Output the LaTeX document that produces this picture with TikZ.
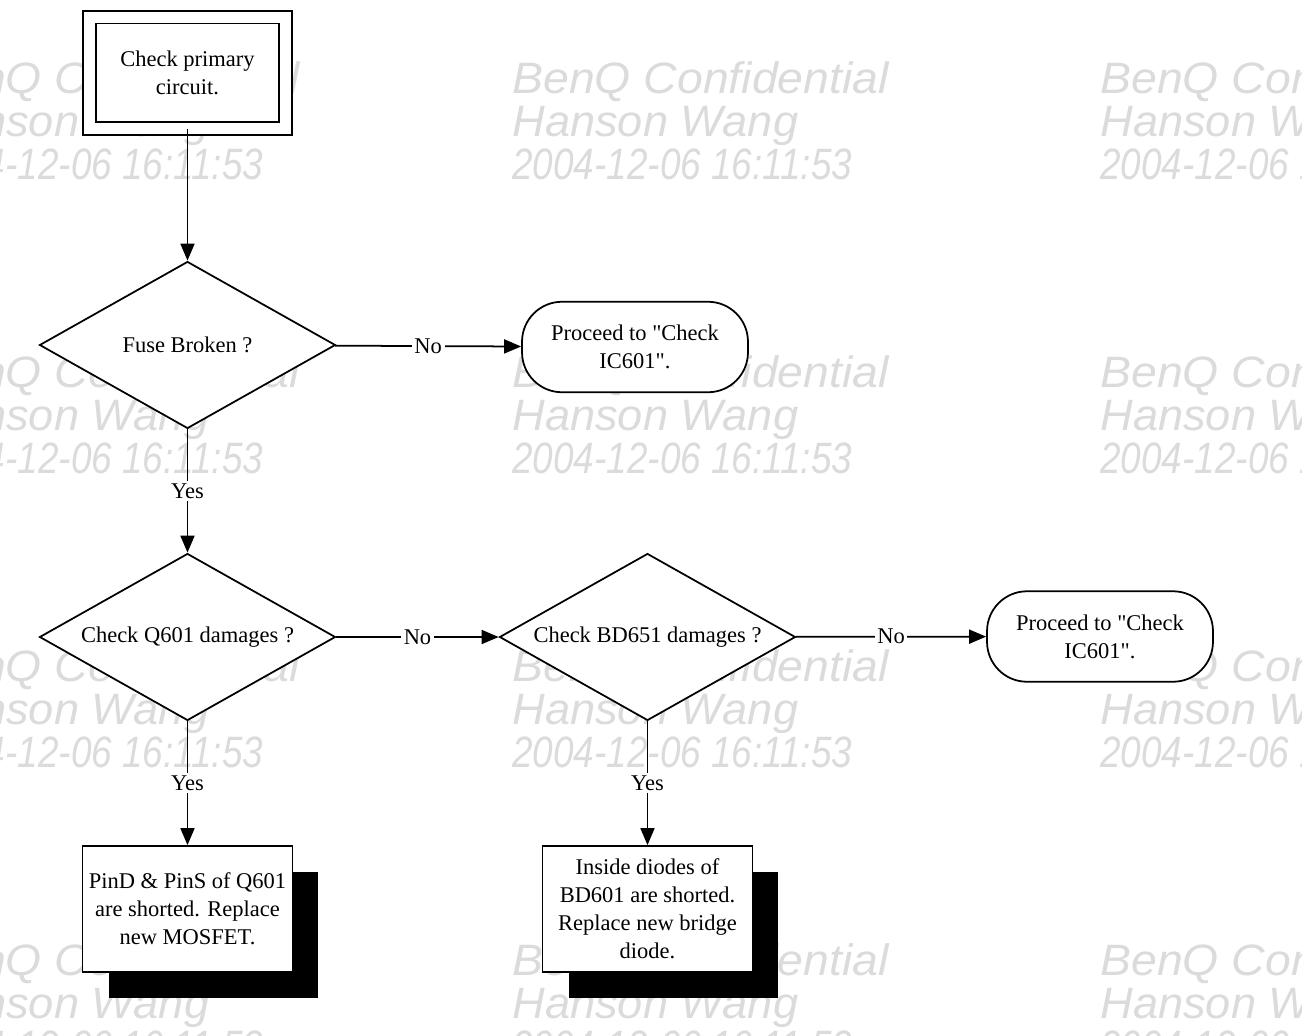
\documentclass[tikz,border=0pt]{standalone}
\usepackage{fontspec}
\usepackage{graphicx}
\setmainfont{Liberation Serif}[Ligatures=TeXOff]
\newfontfamily\stampfont{Liberation Sans}
\usetikzlibrary{shapes.geometric,arrows.meta,shadows}

\tikzset{
  txt/.style={font=\fontsize{12.8}{16}\selectfont, align=center},
  startbox/.style={txt, draw, line width=1pt, double, double distance=0.22cm,
    fill=white, minimum width=3.92cm, minimum height=2.23cm},
  decision/.style={txt, shape=diamond, draw, line width=1pt, fill=white,
    aspect=1.77, inner sep=0pt, minimum width=5.92cm, minimum height=3.34cm},
  terminal/.style={txt, draw, line width=1pt, fill=white, rounded corners=0.8cm,
    minimum width=4.52cm, minimum height=1.81cm},
  action/.style={txt, draw, line width=1pt, fill=white,
    minimum width=4.2cm, minimum height=2.52cm,
    general shadow={fill=black, shadow xshift=0.52cm, shadow yshift=-0.52cm}},
  flow/.style={line width=1pt, -{Triangle[length=0.34cm,width=0.28cm]}},
  answer/.style={font=\fontsize{12.8}{16}\selectfont, fill=white, inner sep=1.5pt},
  stamp/.style={font=\stampfont\itshape\fontsize{25}{25}\selectfont,
    text=black!14, anchor=base west, inner sep=0pt}
}

\begin{document}
\begin{tikzpicture}[x=0.02cm,y=-0.02cm]
  \useasboundingbox (0,0) rectangle (1302,1035);

  % background stamp
  \begin{scope}
    \clip (0,0) rectangle (1302,1035);
    \foreach \cx in {-77,512,1100}
      \foreach \cy in {93,387,681,975} {
        \node[stamp] (st-\cx-\cy-a) at (\cx,\cy) {\scalebox{1.056}[1]{BenQ Confidential}};
        \node[stamp] (st-\cx-\cy-b) at (\cx,\cy+43) {\scalebox{1.03}[1]{Hanson Wang}};
        \node[stamp] (st-\cx-\cy-c) at (\cx,\cy+86) {\scalebox{0.84}[1]{2004-12-06 16:11:53}};
      }
  \end{scope}

  \node[startbox] (start) at (187.5,72.75) {Check primary\\circuit.};

  \node[decision] (fuse) at (187.5,345) {Fuse Broken ?};
  \node[terminal] (ic1) at (635,347) {Proceed to "Check\\IC601".};

  \node[decision] (q601) at (187.5,637) {Check Q601 damages ?};
  \node[decision] (bd651) at (647.5,637) {Check BD651 damages ?};
  \node[terminal] (ic2) at (1100,636.5) {Proceed to "Check\\IC601".};

  \node[action] (mosfet) at (187.5,909) {PinD \& PinS of Q601\\are shorted. Replace\\new MOSFET.};
  \node[action] (bridge) at (647.5,909) {Inside diodes of\\BD601 are shorted.\\Replace new bridge\\diode.};

  \draw[flow] (start) -- (fuse);
  \draw[flow] (fuse) -- node[answer] (n1) {No} (ic1);
  \draw[flow] (fuse) -- node[answer] (y1) {Yes} (q601);
  \draw[flow] (q601) -- node[answer] (n2) {No} (bd651);
  \draw[flow] (bd651) -- node[answer] (n3) {No} (ic2);
  \draw[flow] (q601) -- node[answer] (y2) {Yes} (mosfet);
  \draw[flow] (bd651) -- node[answer] (y3) {Yes} (bridge);
\end{tikzpicture}
\end{document}
